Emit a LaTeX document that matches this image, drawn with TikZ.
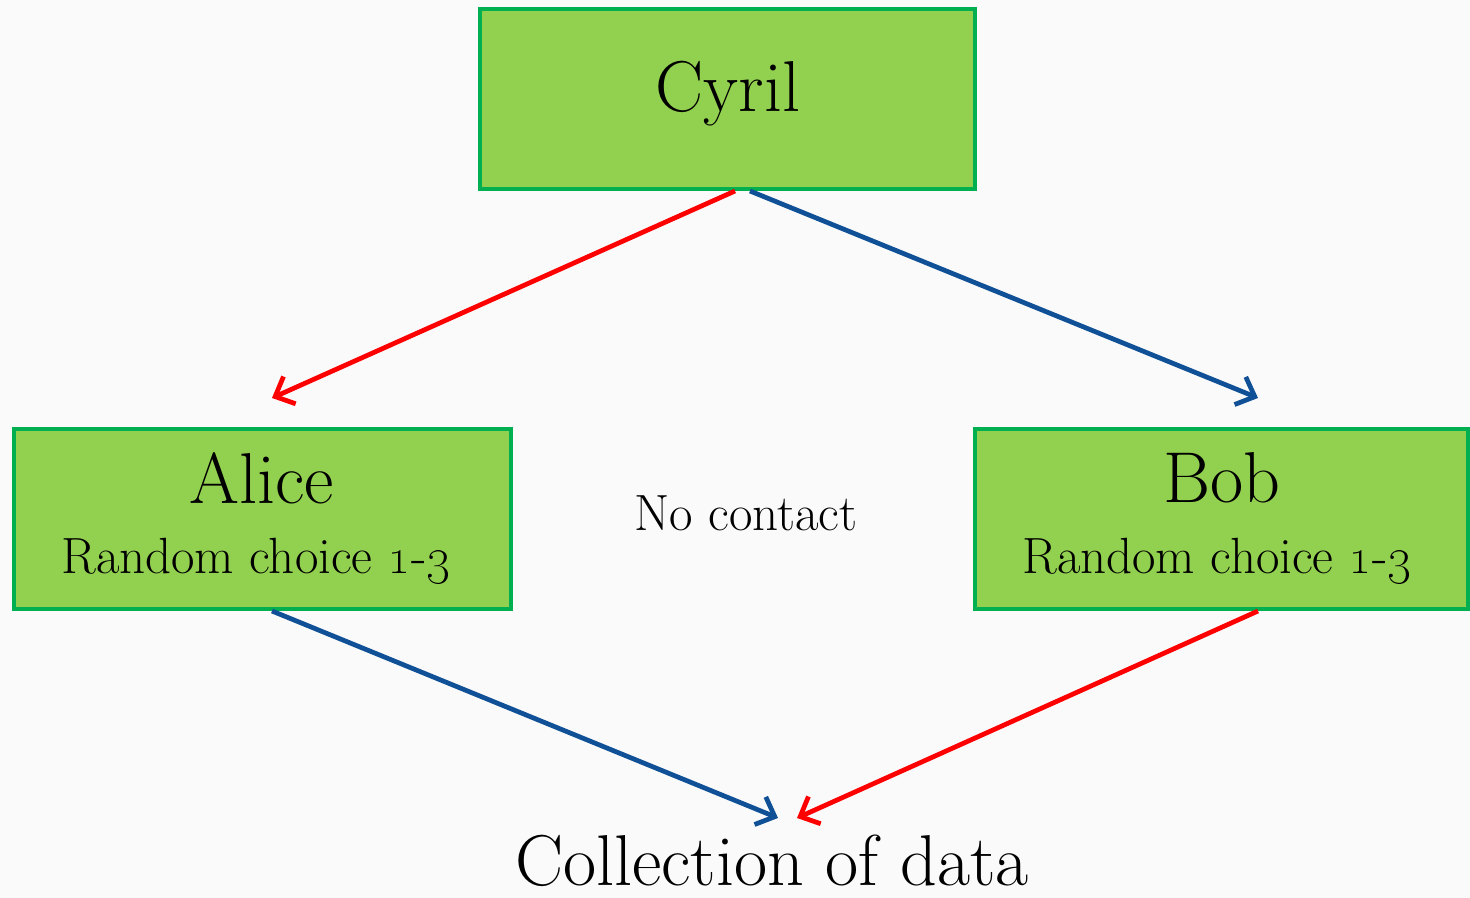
\documentclass[tikz,border=0pt]{standalone}
\usetikzlibrary{arrows.meta,calc}
\definecolor{boxfill}{RGB}{146,208,80}
\definecolor{boxline}{RGB}{0,176,80}
\definecolor{arrred}{RGB}{255,0,0}
\definecolor{arrblue}{RGB}{16,80,150}
\definecolor{bg}{RGB}{250,250,250}
\begin{document}
\begin{tikzpicture}[x=0.02cm,y=-0.02cm,
  box/.style={draw=boxline,fill=boxfill,line width=2.3pt,minimum width=9.4cm,minimum height=3.6cm,inner sep=0pt},
  conn/.style={line width=2.7pt,-{Straight Barb[length=9pt,width=17pt,line width=2.7pt]}},
  big/.style={font=\fontsize{41}{49}\selectfont},
  mid/.style={font=\fontsize{29}{35}\selectfont}]
\fill[bg] (0,0) rectangle (1470,898);
\useasboundingbox (0,0) rectangle (1470,898);
\node[box,minimum width=9.9cm] (cyril) at (727.5,99) {};
\node[big] (cyriltxt) at (728,94) {Cyril};
\node[box,minimum width=9.94cm] (alice) at (262.5,519) {};
\node[big] (alicetxt) at (262,478) {Alice};
\node[mid] (alicerc) at (256,561) {Random choice \oldstylenums{1}-\oldstylenums{3}};
\node[box,minimum width=9.86cm] (bob) at (1221.5,519) {};
\node[big] (bobtxt) at (1222,478) {Bob};
\node[mid] (bobrc) at (1217,561) {Random choice \oldstylenums{1}-\oldstylenums{3}};
\node[mid] (nocontact) at (746,513) {No contact};
\node[big] (collect) at (772,861) {Collection of data};
\coordinate (aliceIn) at (272,398);
\coordinate (bobIn) at (1258,398);
\coordinate (collBlue) at (778,818);
\coordinate (collRed) at (797,818);
\draw[conn,arrred] ([xshift=0.15cm]cyril.south) -- (aliceIn);
\draw[conn,arrblue] ([xshift=0.45cm]cyril.south) -- (bobIn);
\draw[conn,arrblue] ([xshift=0.19cm]alice.south) -- (collBlue);
\draw[conn,arrred] ([xshift=0.73cm]bob.south) -- (collRed);
\end{tikzpicture}
\end{document}
